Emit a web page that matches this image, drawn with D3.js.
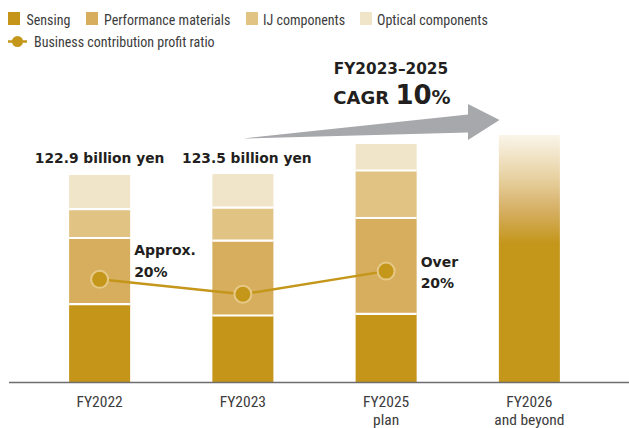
<!DOCTYPE html>
<html>
<head>
<meta charset="utf-8">
<script src="https://cdn.jsdelivr.net/npm/d3@7"></script>
<style>
  body { margin: 0; background: #fff; }
  svg { display: block; }
  text { font-family: "Liberation Sans Narrow", "Roboto Condensed", Lato, sans-serif; }
  text.bold { font-family: "DejaVu Sans", Lato, sans-serif; font-weight: 700; }
</style>
</head>
<body>
<div id="chart"></div>
<script>
// data (billion yen)
var years = ["FY2022", "FY2023", "FY2025 plan", "FY2026 and beyond"];
var yearLines = [["FY2022"], ["FY2023"], ["FY2025", "plan"], ["FY2026", "and beyond"]];
var segments = ["Sensing", "Performance materials", "IJ components", "Optical components"];
var sensing = [46.3, 39.5, 40.4];
var performance = [39.2, 44.5, 57.0];
var ijComp = [17.2, 19.6, 28.2];
var optical = [20.2, 19.9, 15.7];
var futureTotal = 146.7; // FY2026 drawn as a faded bar
var totalLabels = ["122.9 billion yen", "123.5 billion yen"];
var profitRatio = [20.0, 17.1, 21.6];
var ratioLabels = [["Approx.", "20%"], null, ["Over", "20%"]];

var colors = ["#c49518", "#d6ae5d", "#e1c384", "#f1e5c9"];

var W = 629, H = 428;
var svg = d3.select("#chart").append("svg").attr("width", W).attr("height", H);

var x = d3.scaleBand().domain(years).range([28, 601]).paddingInner(0.574).paddingOuter(0.287);
var y = d3.scaleLinear().domain([0, 150]).range([382, 129.4]);
var y2 = d3.scaleLinear().domain([0, 30]).range([382, 228]);

// stacked bars
var rows = sensing.map(function(d, i) {
  return { year: years[i], Sensing: d, "Performance materials": performance[i],
           "IJ components": ijComp[i], "Optical components": optical[i] };
});
var stacked = d3.stack().keys(segments)(rows);

stacked.forEach(function(layer, k) {
  svg.append("g").selectAll("rect").data(layer).enter().append("rect")
    .attr("x", function(d) { return x(d.data.year); })
    .attr("y", function(d) { return y(d[1]); })
    .attr("width", x.bandwidth())
    .attr("height", function(d) { return y(d[0]) - y(d[1]); })
    .attr("fill", colors[k]);
});
// white separators between segments
stacked.slice(0, 3).forEach(function(layer) {
  svg.append("g").selectAll("line").data(layer).enter().append("line")
    .attr("x1", function(d) { return x(d.data.year); })
    .attr("x2", function(d) { return x(d.data.year) + x.bandwidth(); })
    .attr("y1", function(d) { return y(d[1]); })
    .attr("y2", function(d) { return y(d[1]); })
    .attr("stroke", "#fff").attr("stroke-width", 2.2);
});

// faded future bar
var grad = svg.append("defs").append("linearGradient")
  .attr("id", "fade").attr("x1", 0).attr("x2", 0).attr("y1", 0).attr("y2", 1);
[[0, "#faf5ea"], [0.17, "#e8d2a3"], [0.3, "#d6b066"], [0.44, "#c4961a"], [1, "#c4961a"]].forEach(function(s) {
  grad.append("stop").attr("offset", s[0]).attr("stop-color", s[1]);
});
svg.append("rect")
  .attr("x", x(years[3])).attr("y", y(futureTotal))
  .attr("width", x.bandwidth()).attr("height", y(0) - y(futureTotal))
  .attr("fill", "url(#fade)");

// axis baseline
svg.append("line").attr("x1", 9).attr("x2", W).attr("y1", 382.5).attr("y2", 382.5)
  .attr("stroke", "#6d6d6d").attr("stroke-width", 1.3);

// x labels
yearLines.forEach(function(lines, i) {
  var t = svg.append("text").attr("x", x(years[i]) + x.bandwidth() / 2).attr("y", 407)
    .attr("text-anchor", "middle").attr("font-size", 15.5).attr("fill", "#3c3c3c");
  lines.forEach(function(l, j) {
    t.append("tspan").attr("x", x(years[i]) + x.bandwidth() / 2).attr("dy", j ? 18 : 0).text(l);
  });
});

// total labels
totalLabels.forEach(function(l, i) {
  svg.append("text").attr("class", "bold").attr("x", x(years[i]) + x.bandwidth() / 2 + (i ? 4 : 0)).attr("y", 163)
    .attr("text-anchor", "middle").attr("font-size", 13.8)
    .attr("fill", "#231f20").text(l);
});

// profit ratio line
var cx = function(d, i) { return x(years[i]) + x.bandwidth() / 2; };
svg.append("path").datum(profitRatio)
  .attr("d", d3.line().x(cx).y(function(d) { return y2(d); }))
  .attr("fill", "none").attr("stroke", "#c4961a").attr("stroke-width", 2.5);
svg.append("g").selectAll("circle").data(profitRatio).enter().append("circle")
  .attr("cx", cx).attr("cy", function(d) { return y2(d); }).attr("r", 8.5)
  .attr("fill", "#c4961a").attr("stroke", "#e6c987").attr("stroke-width", 2);

ratioLabels.forEach(function(lines, i) {
  if (!lines) return;
  var t = svg.append("text").attr("class", "bold").attr("font-size", 14).attr("fill", "#231f20");
  var tx = x(years[i]) + x.bandwidth() + 4;
  var ty = i === 0 ? 255 : 266.5;
  lines.forEach(function(l, j) {
    t.append("tspan").attr("x", tx).attr("y", ty + j * 21.5).text(l);
  });
});

// growth arrow
svg.append("path")
  .attr("d", "M243,138.5 L468,114.5 L468,104 L499.5,120 L468,140 L468,132.5 Z")
  .attr("fill", "#a7a8ab");
svg.append("text").attr("class", "bold").attr("x", 391).attr("y", 74).attr("text-anchor", "middle")
  .attr("font-size", 15.3).attr("fill", "#231f20").text("FY2023–2025");
var cagr = svg.append("text").attr("class", "bold").attr("x", 392).attr("y", 104).attr("text-anchor", "middle")
  .attr("fill", "#231f20");
cagr.append("tspan").attr("font-size", 18).text("CAGR ");
cagr.append("tspan").attr("font-size", 26).text("10");
cagr.append("tspan").attr("font-size", 19).text("%");

// legend
var legendX = [8, 86, 246, 360];
var textX = [26.5, 104, 263, 377];
segments.forEach(function(s, i) {
  svg.append("rect").attr("x", legendX[i]).attr("y", 12).attr("width", 12).attr("height", 13).attr("fill", colors[i]);
  svg.append("text").attr("x", textX[i]).attr("y", 24.5).attr("font-size", 14)
    .attr("fill", "#3c3c3c").text(s);
});
svg.append("line").attr("x1", 8).attr("x2", 27).attr("y1", 41.5).attr("y2", 41.5)
  .attr("stroke", "#c4961a").attr("stroke-width", 2.5);
svg.append("circle").attr("cx", 17.5).attr("cy", 41.5).attr("r", 5.5).attr("fill", "#c4961a");
svg.append("text").attr("x", 34).attr("y", 47).attr("font-size", 14).attr("fill", "#3c3c3c")
  .text("Business contribution profit ratio");
</script>
</body>
</html>
